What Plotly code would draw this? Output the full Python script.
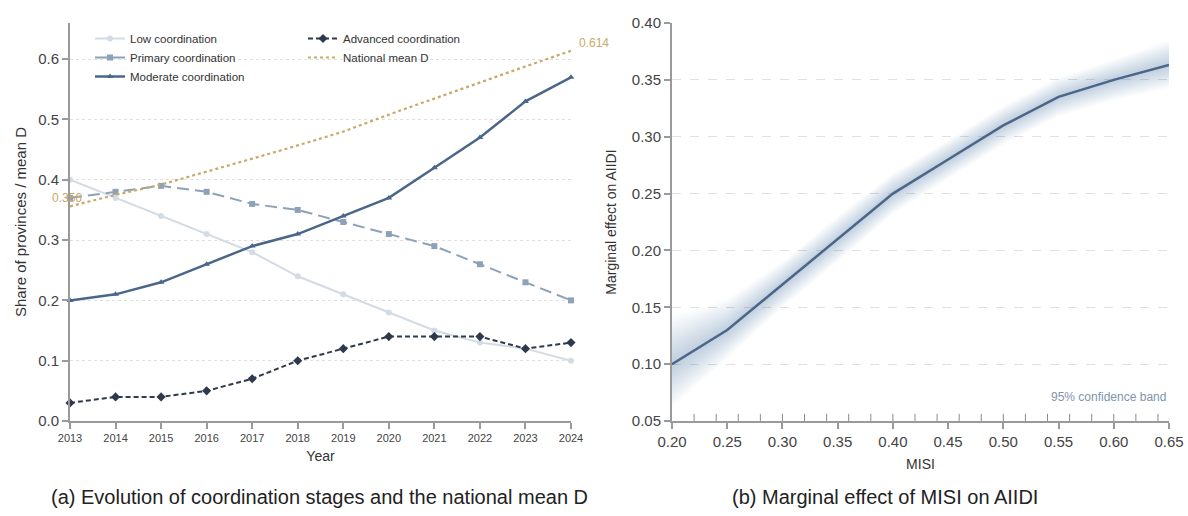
import plotly.graph_objects as go

# ---------------- data ----------------
years = [2013, 2014, 2015, 2016, 2017, 2018, 2019, 2020, 2021, 2022, 2023, 2024]
low = [0.40, 0.37, 0.34, 0.31, 0.28, 0.24, 0.21, 0.18, 0.15, 0.13, 0.12, 0.10]
primary = [0.37, 0.38, 0.39, 0.38, 0.36, 0.35, 0.33, 0.31, 0.29, 0.26, 0.23, 0.20]
moderate = [0.20, 0.21, 0.23, 0.26, 0.29, 0.31, 0.34, 0.37, 0.42, 0.47, 0.53, 0.57]
advanced = [0.03, 0.04, 0.04, 0.05, 0.07, 0.10, 0.12, 0.14, 0.14, 0.14, 0.12, 0.13]
mean_d = [0.356, 0.375, 0.392, 0.413, 0.435, 0.457, 0.480, 0.508, 0.535, 0.562, 0.588, 0.614]

misi = [0.20, 0.25, 0.30, 0.35, 0.40, 0.45, 0.50, 0.55, 0.60, 0.65]
effect = [0.100, 0.130, 0.170, 0.210, 0.250, 0.280, 0.310, 0.335, 0.350, 0.363]
ci_lo = [0.062, 0.105, 0.150, 0.190, 0.232, 0.263, 0.293, 0.318, 0.332, 0.343]
ci_hi = [0.142, 0.157, 0.190, 0.230, 0.268, 0.297, 0.327, 0.352, 0.368, 0.385]
rug_x = [0.22, 0.24, 0.26, 0.28, 0.30, 0.32, 0.34, 0.36, 0.38, 0.40, 0.42,
         0.44, 0.46, 0.48, 0.50, 0.52, 0.54, 0.56, 0.58, 0.60, 0.62, 0.64]

FONT = "Liberation Sans, Arial, sans-serif"
C_LOW = "#d3dbe5"
C_PRI = "#8ea2b7"
C_MOD = "#4a6689"
C_ADV = "#2e3a4b"
C_MEAN = "#c8a96a"
AXC = "#9a9a9a"

fig = go.Figure()

# ---------------- panel (a) ----------------
fig.add_trace(go.Scatter(x=years, y=low, name="Low coordination", mode="lines+markers",
                         line=dict(color=C_LOW, width=2), marker=dict(symbol="circle", size=6, color=C_LOW),
                         cliponaxis=False, xaxis="x", yaxis="y", legend="legend"))
fig.add_trace(go.Scatter(x=years, y=primary, name="Primary coordination", mode="lines+markers",
                         line=dict(color=C_PRI, width=2, dash="12px,6px"),
                         marker=dict(symbol="square", size=6, color=C_PRI),
                         cliponaxis=False, xaxis="x", yaxis="y", legend="legend"))
fig.add_trace(go.Scatter(x=years, y=moderate, name="Moderate coordination", mode="lines+markers",
                         line=dict(color=C_MOD, width=2.5), marker=dict(symbol="triangle-up", size=6, color=C_MOD),
                         cliponaxis=False, xaxis="x", yaxis="y", legend="legend"))
fig.add_trace(go.Scatter(x=years, y=advanced, name="Advanced coordination", mode="lines+markers",
                         line=dict(color=C_ADV, width=2, dash="5px,3px"),
                         marker=dict(symbol="diamond", size=7, color=C_ADV),
                         cliponaxis=False, xaxis="x", yaxis="y", legend="legend2"))
fig.add_trace(go.Scatter(x=years, y=mean_d, name="National mean D", mode="lines",
                         line=dict(color=C_MEAN, width=2.2, dash="dot"),
                         cliponaxis=False, xaxis="x", yaxis="y", legend="legend2"))

# ---------------- panel (b) ----------------
n_layers = 16
for k in range(n_layers, 0, -1):
    f = k / n_layers
    up = [m + f * (h - m) for m, h in zip(effect, ci_hi)]
    dn = [m - f * (m - l) for m, l in zip(effect, ci_lo)]
    fig.add_trace(go.Scatter(x=misi + misi[::-1], y=up + dn[::-1], fill="toself",
                             fillcolor="rgba(90,112,150,0.024)",
                             line=dict(width=0, color="rgba(0,0,0,0)"),
                             mode="lines", hoverinfo="skip", showlegend=False,
                             xaxis="x2", yaxis="y2"))
fig.add_trace(go.Scatter(x=misi, y=effect, mode="lines", line=dict(color=C_MOD, width=2.5),
                         showlegend=False, xaxis="x2", yaxis="y2"))

shapes = []
for rx in rug_x:
    shapes.append(dict(type="line", xref="x2", yref="y2 domain", x0=rx, x1=rx, y0=0, y1=0.018,
                       line=dict(color="#8a8a8a", width=1)))

axis_common = dict(showline=True, linecolor=AXC, linewidth=2, ticks="outside", ticklen=6,
                   tickcolor=AXC, tickwidth=1.5, zeroline=False, mirror=False, automargin=False)

fig.update_layout(
    width=1188, height=516,
    margin=dict(l=0, r=0, t=0, b=0),
    paper_bgcolor="white", plot_bgcolor="white",
    font=dict(family=FONT, color="#333333"),
    shapes=shapes,
    xaxis=dict(domain=[70 / 1188, 571 / 1188], range=[2013, 2024], dtick=1, showgrid=False,
               tickfont=dict(size=11, color="#444"),
               title=dict(text="Year", font=dict(size=14, color="#333"), standoff=8),
               anchor="y", **axis_common),
    yaxis=dict(domain=[(516 - 421) / 516, (516 - 23) / 516], range=[0, 0.66],
               tickvals=[0, 0.1, 0.2, 0.3, 0.4, 0.5, 0.6], tickformat=".1f",
               showgrid=True, gridcolor="#e0e0e0", griddash="dot", gridwidth=1,
               tickfont=dict(size=15, color="#444"),
               title=dict(text="Share of provinces / mean D", font=dict(size=15, color="#333"), standoff=8),
               anchor="x", **axis_common),
    xaxis2=dict(domain=[672 / 1188, 1169 / 1188], range=[0.20, 0.65], dtick=0.05, tickformat=".2f",
                showgrid=False, tickfont=dict(size=15, color="#444"),
                title=dict(text="MISI", font=dict(size=14, color="#333"), standoff=10),
                anchor="y2", **axis_common),
    yaxis2=dict(domain=[(516 - 421) / 516, (516 - 23) / 516], range=[0.05, 0.40], dtick=0.05,
                tickformat=".2f", showgrid=True, gridcolor="#e0e0e0", griddash="dash", gridwidth=1,
                tickfont=dict(size=15, color="#444"),
                title=dict(text="Marginal effect on AIIDI", font=dict(size=14, color="#333"), standoff=12),
                anchor="x2", **axis_common),
    legend=dict(x=90 / 1188, y=(516 - 24) / 516, xanchor="left", yanchor="top",
                bgcolor="rgba(0,0,0,0)", font=dict(size=11.5, color="#333"),
                tracegroupgap=0, itemwidth=30),
    legend2=dict(x=303 / 1188, y=(516 - 24) / 516, xanchor="left", yanchor="top",
                 bgcolor="rgba(0,0,0,0)", font=dict(size=11.5, color="#333"),
                 tracegroupgap=0, itemwidth=30),
    annotations=[
        dict(x=years[0], y=mean_d[0], xref="x", yref="y", text=f"{mean_d[0]:.3f}", showarrow=False,
             xanchor="center", yanchor="middle", xshift=-3, yshift=8,
             font=dict(size=12, color=C_MEAN)),
        dict(x=years[-1], y=mean_d[-1], xref="x", yref="y", text=f"{mean_d[-1]:.3f}", showarrow=False,
             xanchor="left", yanchor="middle", xshift=6, yshift=8,
             font=dict(size=12, color=C_MEAN)),
        dict(x=0.998, y=0.06, xref="x2 domain", yref="y2 domain", text="95% confidence band",
             showarrow=False, xanchor="right", yanchor="middle",
             font=dict(size=12, color="#8094aa")),
        dict(x=319 / 1188, y=(516 - 497) / 516, xref="paper", yref="paper",
             text="(a) Evolution of coordination stages and the national mean D", showarrow=False,
             xanchor="center", yanchor="middle", font=dict(size=20, color="#222")),
        dict(x=885 / 1188, y=(516 - 497) / 516, xref="paper", yref="paper",
             text="(b) Marginal effect of MISI on AIIDI", showarrow=False,
             xanchor="center", yanchor="middle", font=dict(size=20, color="#222")),
    ],
)

fig.write_html("out.html")
